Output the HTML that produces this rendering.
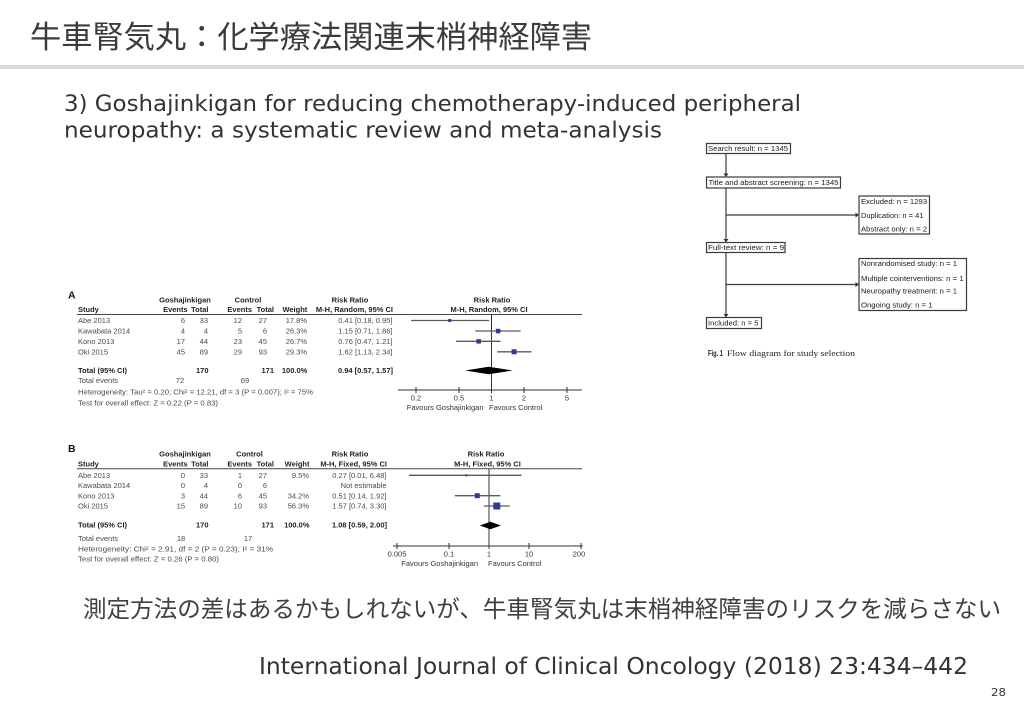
<!DOCTYPE html>
<html><head><meta charset="utf-8"><style>
html,body{margin:0;padding:0;background:#fff;}
svg{display:block;}
.t{font-family:"Liberation Sans",Arial,sans-serif;font-size:7.5px;fill:#4a4a4a;}
.h{font-family:"Liberation Sans",Arial,sans-serif;font-size:7.5px;font-weight:bold;fill:#222;}
.f{font-family:"Liberation Sans",Arial,sans-serif;font-size:7px;fill:#1a1a1a;}
.e{text-anchor:end;}
.m{text-anchor:middle;}
</style></head><body>
<svg width="1024" height="708" viewBox="0 0 1024 708" xmlns="http://www.w3.org/2000/svg">
<rect width="1024" height="708" fill="#fff"/>
<!-- Title -->
<text x="30" y="48" font-family="'Liberation Sans','Noto Sans CJK JP',sans-serif" font-size="31" fill="#3b3b3b" textLength="562" lengthAdjust="spacingAndGlyphs">牛車腎気丸：化学療法関連末梢神経障害</text>
<rect x="0" y="65" width="1024" height="4" fill="#d9d9d9"/>
<!-- Subtitle -->
<text x="64" y="111" font-family="'DejaVu Sans','Liberation Sans',sans-serif" font-size="22.5" fill="#333" textLength="737" lengthAdjust="spacingAndGlyphs">3) Goshajinkigan for reducing chemotherapy-induced peripheral</text>
<text x="64" y="137.5" font-family="'DejaVu Sans','Liberation Sans',sans-serif" font-size="22.5" fill="#333" textLength="598" lengthAdjust="spacingAndGlyphs">neuropathy: a systematic review and meta-analysis</text>

<!-- Flow diagram -->
<g stroke="#3a3a3a" stroke-width="1.2" fill="none">
<rect x="706.5" y="143.5" width="84" height="10"/>
<rect x="706.5" y="177" width="134" height="11"/>
<rect x="859" y="196" width="70.5" height="38"/>
<rect x="706.5" y="242.5" width="78.5" height="10"/>
<rect x="859" y="258.5" width="107.5" height="52"/>
<rect x="706.5" y="317.5" width="55" height="11"/>
<line x1="726" y1="153.5" x2="726" y2="174"/>
<line x1="726" y1="188" x2="726" y2="240"/>
<line x1="726" y1="252.5" x2="726" y2="315"/>
<line x1="726" y1="215" x2="856" y2="215"/>
<line x1="726" y1="284.5" x2="856" y2="284.5"/>
</g>
<g fill="#333">
<polygon points="723.5,173.5 728.5,173.5 726,177"/>
<polygon points="723.5,239 728.5,239 726,242.5"/>
<polygon points="723.5,314 728.5,314 726,317.5"/>
<polygon points="855.5,212.5 855.5,217.5 859,215"/>
<polygon points="855.5,282 855.5,287 859,284.5"/>
</g>
<text class="f" x="708" y="150.8" textLength="80" lengthAdjust="spacingAndGlyphs">Search result: n = 1345</text>
<text class="f" x="708.5" y="185" textLength="130" lengthAdjust="spacingAndGlyphs">Title and abstract screening: n = 1345</text>
<text class="f" x="861" y="204.2" textLength="66" lengthAdjust="spacingAndGlyphs">Excluded: n = 1293</text>
<text class="f" x="861" y="218.2" textLength="62.5" lengthAdjust="spacingAndGlyphs">Duplication: n = 41</text>
<text class="f" x="861" y="231.5" textLength="66" lengthAdjust="spacingAndGlyphs">Abstract only: n = 2</text>
<text class="f" x="708" y="250" textLength="76" lengthAdjust="spacingAndGlyphs">Full-text review: n = 9</text>
<text class="f" x="861" y="265.8" textLength="96" lengthAdjust="spacingAndGlyphs">Nonrandomised study: n = 1</text>
<text class="f" x="861" y="280.8" textLength="102.5" lengthAdjust="spacingAndGlyphs">Multiple cointerventions: n = 1</text>
<text class="f" x="861" y="293.5" textLength="96" lengthAdjust="spacingAndGlyphs">Neuropathy treatment: n = 1</text>
<text class="f" x="861" y="307.5" textLength="71.5" lengthAdjust="spacingAndGlyphs">Ongoing study: n = 1</text>
<text class="f" x="708" y="325.7" textLength="50.5" lengthAdjust="spacingAndGlyphs">Included: n = 5</text>
<text x="708" y="356" font-family="'Liberation Sans',sans-serif" font-size="8" font-weight="bold" fill="#222" textLength="15" lengthAdjust="spacingAndGlyphs">Fig. 1</text>
<text x="727" y="356" font-family="'Liberation Serif',serif" font-size="8.5" fill="#222" textLength="128" lengthAdjust="spacingAndGlyphs">Flow diagram for study selection</text>

<!-- Forest plot A -->
<text x="68" y="298.5" font-family="'Liberation Sans',sans-serif" font-size="10.5" font-weight="bold" fill="#111">A</text>
<text class="h m" x="185" y="302.5">Goshajinkigan</text>
<text class="h m" x="248" y="302.5">Control</text>
<text class="h m" x="350" y="302.5">Risk Ratio</text>
<text class="h m" x="492" y="302.5">Risk Ratio</text>
<text class="h" x="78" y="312">Study</text>
<text class="h e" x="187.7" y="312">Events</text>
<text class="h e" x="208.5" y="312">Total</text>
<text class="h e" x="252" y="312">Events</text>
<text class="h e" x="274" y="312">Total</text>
<text class="h e" x="307.3" y="312">Weight</text>
<text class="h e" x="393" y="312">M-H, Random, 95% CI</text>
<text class="h m" x="489" y="312">M-H, Random, 95% CI</text>
<line x1="77" y1="314.5" x2="582" y2="314.5" stroke="#444" stroke-width="1"/>

<g>
<text class="t" x="78" y="323">Abe 2013</text><text class="t e" x="185" y="323">6</text><text class="t e" x="208" y="323">33</text><text class="t e" x="242" y="323">12</text><text class="t e" x="267" y="323">27</text><text class="t e" x="307" y="323">17.8%</text><text class="t e" x="392.5" y="323">0.41 [0.18, 0.95]</text>
<text class="t" x="78" y="333.5">Kawabata 2014</text><text class="t e" x="185" y="333.5">4</text><text class="t e" x="208" y="333.5">4</text><text class="t e" x="242" y="333.5">5</text><text class="t e" x="267" y="333.5">6</text><text class="t e" x="307" y="333.5">26.3%</text><text class="t e" x="392.5" y="333.5">1.15 [0.71, 1.86]</text>
<text class="t" x="78" y="344">Kono 2013</text><text class="t e" x="185" y="344">17</text><text class="t e" x="208" y="344">44</text><text class="t e" x="242" y="344">23</text><text class="t e" x="267" y="344">45</text><text class="t e" x="307" y="344">26.7%</text><text class="t e" x="392.5" y="344">0.76 [0.47, 1.21]</text>
<text class="t" x="78" y="354.5">Oki 2015</text><text class="t e" x="185" y="354.5">45</text><text class="t e" x="208" y="354.5">89</text><text class="t e" x="242" y="354.5">29</text><text class="t e" x="267" y="354.5">93</text><text class="t e" x="307" y="354.5">29.3%</text><text class="t e" x="392.5" y="354.5">1.62 [1.13, 2.34]</text>
<text class="h" x="78" y="373">Total (95% CI)</text><text class="h e" x="208.5" y="373">170</text><text class="h e" x="274" y="373">171</text><text class="h e" x="307.3" y="373">100.0%</text><text class="h e" x="393" y="373">0.94 [0.57, 1.57]</text>
<text class="t" x="78" y="383.2">Total events</text><text class="t m" x="180" y="383.2">72</text><text class="t m" x="245" y="383.2">69</text>
<text class="t" x="78" y="394.7" textLength="235" lengthAdjust="spacingAndGlyphs">Heterogeneity: Tau² = 0.20; Chi² = 12.21, df = 3 (P = 0.007); I² = 75%</text>
<text class="t" x="78" y="405.7" textLength="140" lengthAdjust="spacingAndGlyphs">Test for overall effect: Z = 0.22 (P = 0.83)</text>
</g>
<!-- plot A -->
<g stroke="#333" stroke-width="1">
<line x1="491.5" y1="314.5" x2="491.5" y2="390"/>
<line x1="398" y1="390" x2="582" y2="390"/>
<line x1="416" y1="387" x2="416" y2="393"/>
<line x1="459" y1="387" x2="459" y2="393"/>
<line x1="491.5" y1="387" x2="491.5" y2="393"/>
<line x1="524" y1="387" x2="524" y2="393"/>
<line x1="567" y1="387" x2="567" y2="393"/>
</g>
<g stroke="#5a5a5a" stroke-width="1.3">
<line x1="411.1" y1="320.5" x2="489.1" y2="320.5"/>
<line x1="475.4" y1="331" x2="520.6" y2="331"/>
<line x1="456.1" y1="341.3" x2="500.4" y2="341.3"/>
<line x1="497.2" y1="351.8" x2="531.4" y2="351.8"/>
</g>
<g fill="#2b3a9c">
<rect x="448.2" y="319" width="3" height="3"/>
<rect x="495.9" y="328.8" width="4.5" height="4.5"/>
<rect x="476.4" y="339.1" width="4.5" height="4.5"/>
<rect x="511.6" y="349.3" width="5" height="5"/>
</g>
<polygon points="465.1,370.5 488.6,366.8 512.7,370.5 488.6,374.2" fill="#000"/>
<text class="t m" x="416" y="400.7" style="fill:#333">0.2</text>
<text class="t m" x="459" y="400.7" style="fill:#333">0.5</text>
<text class="t m" x="491.5" y="400.7" style="fill:#333">1</text>
<text class="t m" x="524" y="400.7" style="fill:#333">2</text>
<text class="t m" x="567" y="400.7" style="fill:#333">5</text>
<text class="t e" x="483.5" y="410" style="fill:#333">Favours Goshajinkigan</text>
<text class="t" x="489" y="410" style="fill:#333">Favours Control</text>

<!-- Forest plot B -->
<text x="68" y="452" font-family="'Liberation Sans',sans-serif" font-size="10.5" font-weight="bold" fill="#111">B</text>
<text class="h m" x="185" y="456.7">Goshajinkigan</text>
<text class="h m" x="249.5" y="456.7">Control</text>
<text class="h m" x="350" y="456.7">Risk Ratio</text>
<text class="h m" x="486" y="456.7">Risk Ratio</text>
<text class="h" x="78" y="466.7">Study</text>
<text class="h e" x="187.7" y="466.7">Events</text>
<text class="h e" x="208.5" y="466.7">Total</text>
<text class="h e" x="252" y="466.7">Events</text>
<text class="h e" x="274" y="466.7">Total</text>
<text class="h e" x="309.5" y="466.7">Weight</text>
<text class="h e" x="387" y="466.7">M-H, Fixed, 95% CI</text>
<text class="h m" x="487.5" y="466.7">M-H, Fixed, 95% CI</text>
<line x1="77" y1="468.8" x2="582" y2="468.8" stroke="#444" stroke-width="1"/>

<g>
<text class="t" x="78" y="478">Abe 2013</text><text class="t e" x="185" y="478">0</text><text class="t e" x="208" y="478">33</text><text class="t e" x="242" y="478">1</text><text class="t e" x="267" y="478">27</text><text class="t e" x="309" y="478">9.5%</text><text class="t e" x="386.5" y="478">0.27 [0.01, 6.48]</text>
<text class="t" x="78" y="488.2">Kawabata 2014</text><text class="t e" x="185" y="488.2">0</text><text class="t e" x="208" y="488.2">4</text><text class="t e" x="242" y="488.2">0</text><text class="t e" x="267" y="488.2">6</text><text class="t e" x="386.5" y="488.2">Not estimable</text>
<text class="t" x="78" y="498.4">Kono 2013</text><text class="t e" x="185" y="498.4">3</text><text class="t e" x="208" y="498.4">44</text><text class="t e" x="242" y="498.4">6</text><text class="t e" x="267" y="498.4">45</text><text class="t e" x="309" y="498.4">34.2%</text><text class="t e" x="386.5" y="498.4">0.51 [0.14, 1.92]</text>
<text class="t" x="78" y="508.7">Oki 2015</text><text class="t e" x="185" y="508.7">15</text><text class="t e" x="208" y="508.7">89</text><text class="t e" x="242" y="508.7">10</text><text class="t e" x="267" y="508.7">93</text><text class="t e" x="309" y="508.7">56.3%</text><text class="t e" x="386.5" y="508.7">1.57 [0.74, 3.30]</text>
<text class="h" x="78" y="527.5">Total (95% CI)</text><text class="h e" x="208.5" y="527.5">170</text><text class="h e" x="274" y="527.5">171</text><text class="h e" x="309.5" y="527.5">100.0%</text><text class="h e" x="387" y="527.5">1.08 [0.59, 2.00]</text>
<text class="t" x="78" y="541">Total events</text><text class="t m" x="181" y="541">18</text><text class="t m" x="248" y="541">17</text>
<text class="t" x="78" y="551.5" textLength="195" lengthAdjust="spacingAndGlyphs">Heterogeneity: Chi² = 2.91, df = 2 (P = 0.23); I² = 31%</text>
<text class="t" x="78" y="561.7" textLength="141" lengthAdjust="spacingAndGlyphs">Test for overall effect: Z = 0.26 (P = 0.80)</text>
</g>
<!-- plot B -->
<g stroke="#333" stroke-width="1">
<line x1="489" y1="468.8" x2="489" y2="546"/>
<line x1="393" y1="546" x2="583" y2="546"/>
<line x1="397" y1="543" x2="397" y2="549"/>
<line x1="449" y1="543" x2="449" y2="549"/>
<line x1="489" y1="543" x2="489" y2="549"/>
<line x1="529" y1="543" x2="529" y2="549"/>
<line x1="581" y1="543" x2="581" y2="549"/>
</g>
<g stroke="#5a5a5a" stroke-width="1.3">
<line x1="409" y1="475.3" x2="521.5" y2="475.3"/>
<line x1="454.8" y1="495.7" x2="500.3" y2="495.7"/>
<line x1="483.8" y1="506" x2="509.7" y2="506"/>
</g>
<g fill="#2b3a9c">
<rect x="465.3" y="474.3" width="2" height="2"/>
<rect x="474.8" y="493.2" width="5" height="5"/>
<rect x="493.3" y="502.5" width="7" height="7"/>
</g>
<polygon points="479.8,525.5 490.3,521.8 501,525.5 490.3,529.2" fill="#000"/>
<text class="t m" x="397" y="556.7" style="fill:#333">0.005</text>
<text class="t m" x="449" y="556.7" style="fill:#333">0.1</text>
<text class="t m" x="489" y="556.7" style="fill:#333">1</text>
<text class="t m" x="529" y="556.7" style="fill:#333">10</text>
<text class="t m" x="579" y="556.7" style="fill:#333">200</text>
<text class="t e" x="478" y="566" style="fill:#333">Favours Goshajinkigan</text>
<text class="t" x="488" y="566" style="fill:#333">Favours Control</text>

<!-- Bottom texts -->
<text x="83" y="617" font-family="'Liberation Sans','Noto Sans CJK JP',sans-serif" font-size="23.5" fill="#404040" textLength="918" lengthAdjust="spacingAndGlyphs">測定方法の差はあるかもしれないが、牛車腎気丸は末梢神経障害のリスクを減らさない</text>
<text x="259" y="674" font-family="'DejaVu Sans','Liberation Sans',sans-serif" font-size="23" fill="#333" textLength="709" lengthAdjust="spacingAndGlyphs">International Journal of Clinical Oncology (2018) 23:434–442</text>
<text x="991" y="696" font-family="'DejaVu Sans','Liberation Sans',sans-serif" font-size="11" fill="#333" textLength="15" lengthAdjust="spacingAndGlyphs">28</text>
</svg>
</body></html>
